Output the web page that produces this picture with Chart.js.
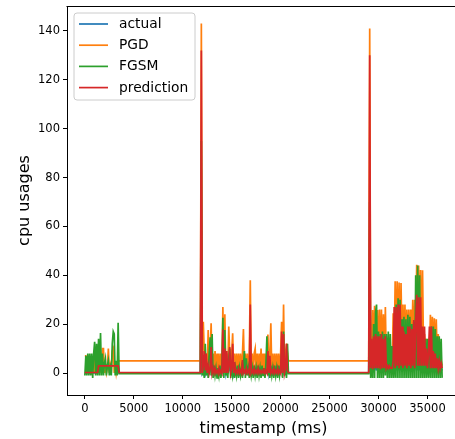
<!DOCTYPE html>
<html><head><meta charset="utf-8">
<script src="https://cdn.jsdelivr.net/npm/chart.js@4"></script>
<style>
html,body{margin:0;padding:0;overflow:hidden;background:#fff;width:455px;height:439px}
#wrap{position:relative;width:465px;height:439px}
canvas{display:block}
</style></head>
<body><div id="wrap"><canvas id="c" width="465" height="439"></canvas></div>
<script>
// ---- data ----
const seriesNames = ['actual', 'PGD', 'FGSM', 'prediction'];
const segmentStart = [0, 11800, 29000]; // ms, first sample of each recorded segment
const sampleStep = 100; // ms between samples

const actualA = [0,0,0,1,0,0,0,0,0,0,0,0,0,0,3,3,3,3,3,3,3,3,3,3,3,3,3,3,3,3,3,3,3,3,3,0];
const pgdA = [7,7,6,0,7,0,6,0,5,0,6,0,5,0,4,0,6,0,10,10,0,3,0,2,10,0,3,0,9,10,0,4,0,3,5,5];
const fgsmA = [-1,7,-1,8,-1,8,-1,8,-2,8,12.8,-1,12,-1,14,-1,16.4,-1,8,-1,4,6,-1,3,5,-1,2,-1,12,17,16,-1,5,-1,20.6,-0.3];
const predA = [0.2,0.2,0.2,0.2,0.2,0.2,0.2,0.2,0.2,0.2,0.2,0.2,0.2,0.3,2.9,2.9,2.9,2.9,2.9,2.9,2.9,2.9,2.9,2.9,2.9,2.9,2.9,2.9,2.9,2.9,2.9,2.9,2.9,2.9,2.9,0.2];

const actualB = [0,60,0,1,2,0,3,0,1,0, 1,5,0,1,0,1,0,0,0,1, 0,0,0,8,0,4,0,3,0,1, 5,0,1,6,0,2,0,0,0,1, 0,0,0,2,0,0,0,1,0,0, 0,12,0,0,0,1,0,0,0,1, 0,0,0,0,0,1,0,0,0,4, 0,3,0,0,0,1,0,0,0,1, 0,0,0,8,0,7,0,1,5,0, 0];
const pgdB = [5,143,8,21,8,0,8,0,17.6,0, 8,20.4,0,8,0,9,0,8,0,8, 0,8,0,27,0,24,0,8,0,19, 8,0,8,16.3,0,8,0,8,0,8, 0,8,0,8,18,0,8,0,8,0, 8,38,0,8,0,8,10,0,8,0, 8,0,10,0,8,0,8,0,8,15.7, 0,8,20.4,0,8,0,8,0,8,0, 8,0,8,21,0,28,0,8,12,8, 5];
const fgsmB = [-0.3,95,-1,2,-2,12,-1,4,-2,8, 14.6,-1,16,-2,3,-1,2,-2,2,-1, 3,-2,2,22.6,-2,17.6,-1,2,-2,6, 10,-2,3,-1,2,-2,2,-1,3,-2, 2,-1,2,-2,3,9,-2,6,-1,2, -2,3,-1,2,-2,3,-1,2,-2,3, -1,2,-2,3,-1,2,-2,4,15,-1, 2,-2,3,-1,2,-2,3,-1,2,-2, 3,-1,2,8,-2,17,-1,3,-2,12, -0.3];
const predB = [0.2,132,0,3,9,1,8,0,3,0, 2,10.6,0,2,0,2,0,1,0,2, 0,1,0,17.8,0,10,0,9,0,3, 10.6,0,2,12,0,4.5,0,1,0,2, 0,1,0,5.3,0,1,0,2,0,1, 0,28,0,1,0,2,0,1,0,2, 0,1,0,1,0,2,0,1,0,9, 0,7,0,1,0,2,0,1,0,2, 0,1,0,17,0,16,0,2,12,1, 0.2];

const actualC = [0,55,1,6,0,6,1,7,1,6, 1,6,1,7,1,6,1,6,1,1, 1,1,1,1,1,2,10,1,10,1, 11,1,11,1,8,1,7,1,7,1, 8,1,8,1,7,1,9,1,9,13, 1,13,1,13,1,8,1,8,1,4, 1,3,8,1,8,1,4,1,3,1, 2,1,2,1,2,1];
const pgdC = [5,141,3,10,25.8,8,27.5,6,10,25.8, 3,26,5,26,3,24,5,27,3,10, 3,8,2,8,3,24.5,8,37.5,10,37.5, 12,37,10,36.8,12,28,10,28,8,26, 10,26,8,26,10,30,8,30,12,44.3, 10,44,12,42.2,10,42,8,16,5,14, 5,13,5,23.8,8,23,6,22.4,5,22, 6,16,5,10,5,3];
const fgsmC = [-0.3,70,-2,4,-2,20,-2,25,28,-2, 17,-2,16,-2,17,-2,16,-1,16,-2, 17,-2,16,-2,11,-2,11,-2,28,-2, 30.6,-2,30,-2,22,-2,23,-2,22,-2, 23.8,-2,23,-2,20,-2,21,-2,40,-2, 44,-2,40,-2,16,-2,15,-2,14,-2, 14,-2,14,-2,19,-2,19,-2,18,-2, 15,-2,15,-2,14,-2];
const predC = [0.2,130,2,14,1.5,15,2,16,2,15, 2,15,1.5,16,2,14,2,15,2,3, 2,3,2,2,2,5,27,2,27,3, 28,2,28,3,19,2,17,3,16,2, 19,3,19,2,18,3,21.7,2,21,32, 3,31,3,31,3,19,3,19,3,10, 2,8,19,2,19,2,9,2,8,2, 6,2,5,2,4,2];

const xTicks = [0, 5000, 10000, 15000, 20000, 25000, 30000, 35000];
const xTickLabels = ['0', '5000', '10000', '15000', '20000', '25000', '30000', '35000'];
const yTicks = [0, 20, 40, 60, 80, 100, 120, 140];
const yTickLabels = ['0', '20', '40', '60', '80', '100', '120', '140'];

// ---- build ----
function buildPoints(segs) {
  const pts = [];
  segs.forEach((vals, s) => vals.forEach((v, i) => pts.push({x: segmentStart[s] + i * sampleStep, y: v})));
  return pts;
}
const colors = ['#1f77b4', '#ff7f0e', '#2ca02c', '#d62728'];
const seriesData = [
  [actualA, actualB, actualC],
  [pgdA, pgdB, pgdC],
  [fgsmA, fgsmB, fgsmC],
  [predA, predB, predC]
];

Chart.defaults.font.family = "'DejaVu Sans', sans-serif";
Chart.defaults.color = '#000';

const datasets = seriesNames.map((name, k) => ({
  label: name,
  data: buildPoints(seriesData[k]),
  borderColor: colors[k],
  backgroundColor: colors[k],
  borderWidth: 1.7,
  pointRadius: 0,
  tension: 0,
  fill: false,
  order: 4 - k
}));

const framePlugin = {
  id: 'frame',
  afterDraw(chart) {
    const {ctx, chartArea: a} = chart;
    ctx.save();
    ctx.strokeStyle = '#000';
    ctx.lineWidth = 1;
    ctx.beginPath();
    ctx.moveTo(Math.round(a.left) - 0.5, Math.round(a.top) + 0.5);
    ctx.lineTo(Math.round(a.right) + 0.5, Math.round(a.top) + 0.5);
    ctx.lineTo(Math.round(a.right) + 0.5, Math.round(a.bottom));
    ctx.stroke();
    ctx.restore();
  }
};

const legendPlugin = {
  id: 'mplLegend',
  afterDraw(chart) {
    const ctx = chart.ctx;
    const x0 = 74, y0 = 13, w = 121, h = 87, r = 3;
    ctx.save();
    ctx.beginPath();
    ctx.moveTo(x0 + r, y0);
    ctx.arcTo(x0 + w, y0, x0 + w, y0 + h, r);
    ctx.arcTo(x0 + w, y0 + h, x0, y0 + h, r);
    ctx.arcTo(x0, y0 + h, x0, y0, r);
    ctx.arcTo(x0, y0, x0 + w, y0, r);
    ctx.closePath();
    ctx.fillStyle = 'rgba(255,255,255,0.8)';
    ctx.fill();
    ctx.strokeStyle = '#cccccc';
    ctx.lineWidth = 1;
    ctx.stroke();
    ctx.font = "13.8px 'DejaVu Sans'";
    ctx.textBaseline = 'middle';
    ctx.textAlign = 'left';
    chart.data.datasets.forEach((ds, k) => {
      const y = 24 + k * 21.2;
      ctx.strokeStyle = ds.borderColor;
      ctx.lineWidth = 1.7;
      ctx.beginPath();
      ctx.moveTo(79, y);
      ctx.lineTo(108, y);
      ctx.stroke();
      ctx.fillStyle = '#000';
      ctx.fillText(ds.label, 119, y + 0.5);
    });
    ctx.restore();
  }
};

new Chart(document.getElementById('c'), {
  type: 'line',
  data: {datasets},
  options: {
    responsive: false,
    animation: false,
    events: [],
    layout: {padding: {top: 6, right: 5, left: 0, bottom: 0}},
    plugins: {legend: {display: false}, tooltip: {enabled: false}},
    scales: {
      x: {
        type: 'linear',
        min: -1825, max: 38325,
        afterFit(s) { s.height = 44; s.paddingLeft = 0; s.paddingRight = 0; },
        afterBuildTicks(s) { s.ticks = xTicks.map(v => ({value: v})); },
        grid: {drawOnChartArea: false, drawTicks: true, tickLength: 4, color: '#000', lineWidth: 1},
        border: {display: true, color: '#000', width: 1},
        ticks: {
          font: {size: 11.5}, color: '#000', padding: 3, maxRotation: 0, autoSkip: false,
          callback: (v) => { const i = xTicks.indexOf(v); return i >= 0 ? xTickLabels[i] : ''; }
        },
        title: {display: true, text: 'timestamp (ms)', font: {size: 16}, color: '#000', padding: {top: 0, bottom: 0.5}}
      },
      y: {
        type: 'linear',
        min: -9.0, max: 150.2,
        afterFit(s) { s.width = 67; s.paddingTop = 0; s.paddingBottom = 0; },
        afterBuildTicks(s) { s.ticks = yTicks.map(v => ({value: v})); },
        grid: {drawOnChartArea: false, drawTicks: true, tickLength: 4, color: '#000', lineWidth: 1},
        border: {display: true, color: '#000', width: 1},
        ticks: {
          font: {size: 11.5}, color: '#000', padding: 3, autoSkip: false,
          callback: (v) => { const i = yTicks.indexOf(v); return i >= 0 ? yTickLabels[i] : ''; }
        },
        title: {display: true, text: 'cpu usages', font: {size: 16}, color: '#000', padding: {top: 15.4, bottom: 0}}
      }
    }
  },
  plugins: [framePlugin, legendPlugin]
});
</script></body></html>
